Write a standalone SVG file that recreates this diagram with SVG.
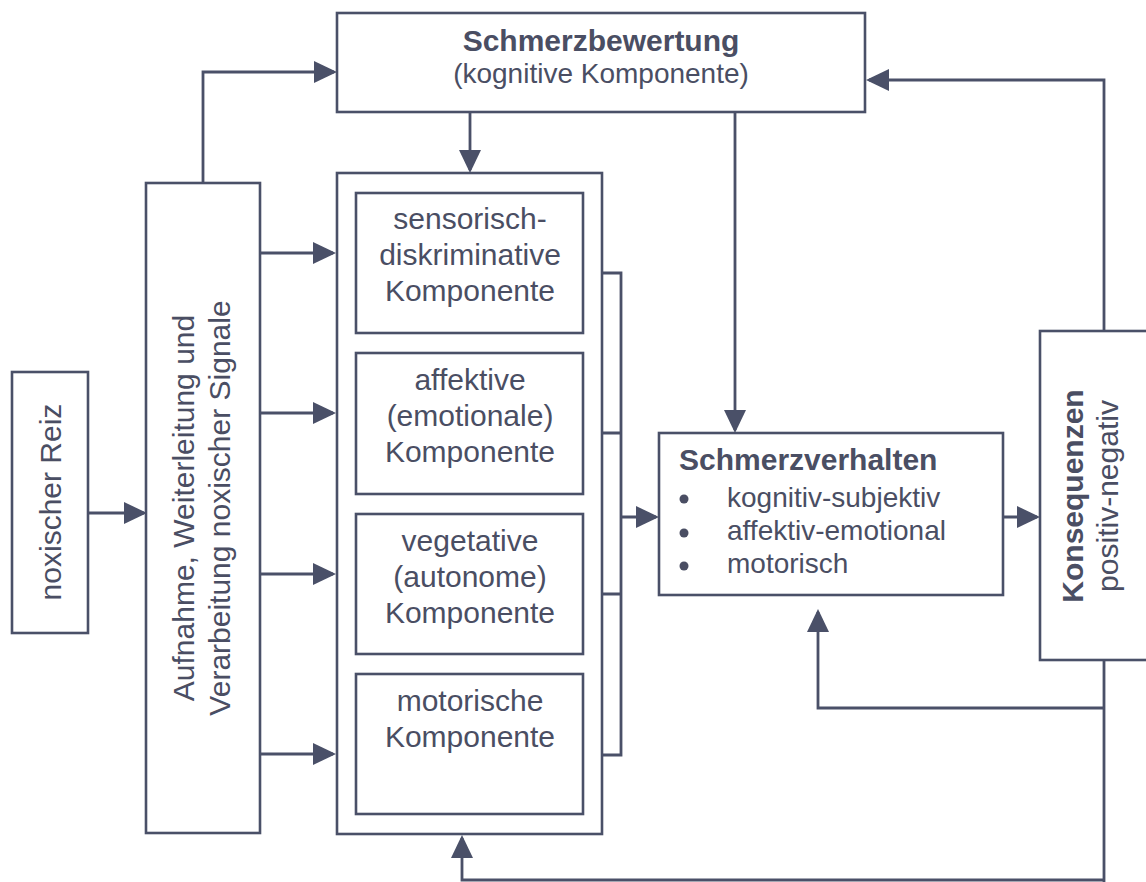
<svg xmlns="http://www.w3.org/2000/svg" width="1146" height="882" viewBox="0 0 1146 882">
<style>
.box{fill:#fff;stroke:#4a5068;stroke-width:2.6}
.ln{fill:none;stroke:#4a5068;stroke-width:2.8}
.arr{marker-end:url(#ah)}
text{font-family:"Liberation Sans",Arial,sans-serif;fill:#4a4e63}
.t30{font-size:30px}
.t28{font-size:28px}
.b{font-weight:bold}
.c{text-anchor:middle}
</style>
<defs>
<marker id="ah" viewBox="0 0 23 22" refX="20" refY="11" markerWidth="23" markerHeight="22" markerUnits="userSpaceOnUse" orient="auto">
<path d="M0,0 L23,11 L0,22 z" fill="#4a5068"/>
</marker>
</defs>
<rect width="1146" height="882" fill="#fff"/>

<g id="connectors">
<path class="ln arr" d="M88,513 H144"/>
<path class="ln arr" d="M260,253 H333"/>
<path class="ln arr" d="M260,413 H333"/>
<path class="ln arr" d="M260,574 H333"/>
<path class="ln arr" d="M260,754 H333"/>
<path class="ln arr" d="M203,183 V72 H334"/>
<path class="ln arr" d="M470,112 V170"/>
<path class="ln arr" d="M735,112 V430"/>
<path class="ln" d="M583,273 H621 V755 H583"/>
<path class="ln" d="M583,433 H621"/>
<path class="ln" d="M583,594 H621"/>
<path class="ln arr" d="M621,517 H656"/>
<path class="ln arr" d="M1003,517 H1037"/>
<path class="ln arr" d="M1104,331 V80 H869"/>
<path class="ln" d="M1104,660 V882"/>
<path class="ln arr" d="M1104,708 H818 V612"/>
<path class="ln arr" d="M1104,880 H462 V838"/>
</g>

<g id="schmerzbewertung">
<rect class="box" x="337" y="13" width="528" height="99"/>
<text class="t30 b c" x="601" y="51">Schmerzbewertung</text>
<text class="t28 c" x="601" y="83">(kognitive Komponente)</text>
</g>

<g id="noxischer-reiz">
<rect class="box" x="12" y="372" width="76" height="261"/>
<text class="t30 c" transform="translate(61,502) rotate(-90)">noxischer Reiz</text>
</g>

<g id="aufnahme">
<rect class="box" x="146" y="183" width="114" height="650"/>
<text class="t30 c" transform="translate(194,508) rotate(-90)">Aufnahme, Weiterleitung und</text>
<text class="t30 c" transform="translate(230,508) rotate(-90)">Verarbeitung noxischer Signale</text>
</g>

<g id="komponenten">
<rect class="box" x="337" y="173" width="265" height="661"/>
</g>

<g id="sensorisch">
<rect class="box" x="356" y="193" width="227" height="140"/>
<text class="t30 c" x="470" y="229">sensorisch-</text>
<text class="t30 c" x="470" y="265">diskriminative</text>
<text class="t30 c" x="470" y="301">Komponente</text>
</g>

<g id="affektiv">
<rect class="box" x="356" y="353" width="227" height="141"/>
<text class="t30 c" x="470" y="390">affektive</text>
<text class="t30 c" x="470" y="426">(emotionale)</text>
<text class="t30 c" x="470" y="462">Komponente</text>
</g>

<g id="vegetativ">
<rect class="box" x="356" y="514" width="227" height="140"/>
<text class="t30 c" x="470" y="551">vegetative</text>
<text class="t30 c" x="470" y="587">(autonome)</text>
<text class="t30 c" x="470" y="623">Komponente</text>
</g>

<g id="motorisch">
<rect class="box" x="356" y="674" width="227" height="140"/>
<text class="t30 c" x="470" y="711">motorische</text>
<text class="t30 c" x="470" y="747">Komponente</text>
</g>

<g id="schmerzverhalten">
<rect class="box" x="659" y="433" width="344" height="162"/>
<text class="t30 b" x="679" y="470">Schmerzverhalten</text>
<circle cx="684" cy="499" r="4.5" fill="#4a4e63"/>
<circle cx="684" cy="533" r="4.5" fill="#4a4e63"/>
<circle cx="684" cy="566" r="4.5" fill="#4a4e63"/>
<text class="t28" x="727" y="507">kognitiv-subjektiv</text>
<text class="t28" x="727" y="540">affektiv-emotional</text>
<text class="t28" x="727" y="573">motorisch</text>
</g>

<g id="konsequenzen">
<rect class="box" x="1040" y="331" width="130" height="329"/>
<text class="t30 b c" transform="translate(1083,496) rotate(-90)">Konsequenzen</text>
<text class="t30 c" transform="translate(1118,496) rotate(-90)">positiv-negativ</text>
</g>
</svg>
